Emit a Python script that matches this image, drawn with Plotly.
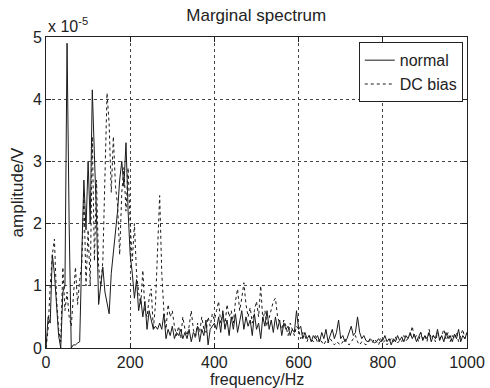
import plotly.graph_objects as go

# frequency axis (Hz), 5 Hz steps
freq = list(range(0, 1001, 5))

# amplitudes in units of 1e-5 V
normal = [
    0.0, 0.5, 0.4, 1.5, 1.2, 0.6, 0.2, 0.0, 0.9, 1.0,
    4.9, 2.0, 0.0, 0.05, 0.05, 0.08, 0.1, 1.5, 2.7, 1.9,
    3.0, 2.0, 4.15, 3.1, 2.1, 0.7, 1.0, 1.3, 0.9, 0.75,
    0.55, 1.2, 1.5, 1.8, 2.2, 2.7, 3.0, 2.6, 3.3, 2.2,
    1.5, 1.2, 0.8, 1.1, 0.6, 0.8, 0.5, 0.75, 0.3, 0.6,
    0.45, 0.3, 0.35, 0.3, 0.4, 0.3, 0.55, 0.15, 0.3, 0.2,
    0.35, 0.15, 0.25, 0.2, 0.3, 0.15, 0.25, 0.15, 0.3, 0.1,
    0.25, 0.2, 0.35, 0.1, 0.3, 0.2, 0.45, 0.05, 0.3, 0.35,
    0.4, 0.3, 0.5, 0.25, 0.6, 0.3, 0.45, 0.2, 0.5, 0.3,
    0.55, 0.25, 0.45, 0.6, 0.3, 0.5, 0.35, 0.45, 0.2, 0.55,
    0.3, 0.4, 0.15, 0.5, 0.35, 0.6, 0.3, 0.45, 0.25, 0.5,
    0.3, 0.45, 0.2, 0.4, 0.3, 0.35, 0.2, 0.3, 0.25, 0.6,
    0.3, 0.35, 0.15, 0.25, 0.15, 0.2, 0.1, 0.2, 0.15, 0.2,
    0.1, 0.25, 0.15, 0.3, 0.1, 0.2, 0.3, 0.15, 0.25, 0.45,
    0.15, 0.2, 0.1, 0.15, 0.25, 0.35, 0.2, 0.25, 0.5, 0.25,
    0.15, 0.2, 0.12, 0.1, 0.15, 0.12, 0.08, 0.1, 0.15, 0.1,
    0.12, 0.2, 0.1, 0.15, 0.05, 0.15, 0.1, 0.2, 0.12, 0.18,
    0.1, 0.2, 0.15, 0.25, 0.15, 0.22, 0.1, 0.18, 0.25, 0.12,
    0.2, 0.15, 0.25, 0.1, 0.2, 0.15, 0.3, 0.12, 0.2, 0.1,
    0.25, 0.15, 0.2, 0.1, 0.22, 0.15, 0.3, 0.1, 0.2, 0.15,
    0.25,
]

dc_bias = [
    0.0, 0.3, 1.0, 1.5, 1.75, 0.8, 0.3, 0.1, 1.3, 0.6,
    0.9, 0.5, 0.35, 0.9, 1.3, 0.7, 1.1, 1.35, 2.5, 1.0,
    1.9, 1.0, 3.4, 1.4, 2.7, 1.3, 1.0, 1.4, 3.0, 4.1,
    3.6, 2.5, 3.4, 2.6, 2.3, 1.5, 2.5, 2.9, 2.2, 2.9,
    2.0, 1.4, 2.0, 1.2, 0.9, 0.7, 1.25, 0.6, 0.5, 0.8,
    0.95, 0.3, 0.7, 1.5, 2.45, 1.2, 0.6, 0.3, 0.7, 0.5,
    0.6, 0.35, 0.2, 0.35, 0.15, 0.5, 0.3, 0.2, 0.35, 0.6,
    0.3, 0.15, 0.4, 0.25, 0.5, 0.3, 0.25, 0.5, 0.35, 0.55,
    0.45, 0.6, 0.75, 0.4, 0.55, 0.35, 0.7, 0.5, 0.6, 0.4,
    0.75, 0.95, 0.6, 0.8, 1.05, 0.7, 0.5, 0.65, 0.4, 0.6,
    0.75, 0.5, 1.0, 0.45, 0.6, 0.35, 0.5, 0.6, 0.75, 0.8,
    0.5, 0.4, 0.3, 0.45, 0.35, 0.2, 0.4, 0.3, 0.2, 0.35,
    0.3, 0.15, 0.25, 0.2, 0.1, 0.2, 0.15, 0.1, 0.2, 0.08,
    0.15, 0.1, 0.05, 0.12, 0.08, 0.15, 0.1, 0.05, 0.1, 0.08,
    0.05, 0.1, 0.15, 0.08, 0.05, 0.1, 0.15, 0.2, 0.1, 0.05,
    0.1, 0.08, 0.05, 0.1, 0.12, 0.08, 0.15, 0.1, 0.05, 0.15,
    0.08, 0.12, 0.05, 0.1, 0.15, 0.1, 0.18, 0.08, 0.12, 0.1,
    0.2, 0.12, 0.15, 0.2, 0.35, 0.15, 0.2, 0.1, 0.25, 0.15,
    0.2, 0.1, 0.3, 0.15, 0.2, 0.1, 0.25, 0.15, 0.2, 0.3,
    0.15, 0.25, 0.1, 0.2, 0.15, 0.25, 0.1, 0.2, 0.3, 0.15,
    0.25,
]

x_ticks = [0, 200, 400, 600, 800, 1000]
y_ticks = [0, 1, 2, 3, 4, 5]

FONT = "Liberation Sans, Arial, sans-serif"

fig = go.Figure()
fig.add_trace(go.Scatter(
    x=freq, y=normal, name="normal", mode="lines",
    line=dict(color="#1a1a1a", width=1),
))
fig.add_trace(go.Scatter(
    x=freq, y=dc_bias, name="DC bias", mode="lines",
    line=dict(color="#1a1a1a", width=1, dash="dot"),
))

axis_common = dict(
    showline=True, mirror="ticks", linecolor="#222", linewidth=1,
    ticks="inside", ticklen=5, tickcolor="#222",
    showgrid=True, gridcolor="#444", griddash="dot", gridwidth=1,
    zeroline=False, automargin=False,
    tickfont=dict(family=FONT, size=16, color="#222"),
)

fig.update_layout(
    width=490, height=388,
    margin=dict(l=46, r=23, t=37, b=40),
    paper_bgcolor="white", plot_bgcolor="white",
    font=dict(family=FONT, color="#222"),
    title=dict(text="Marginal spectrum", x=0.523, xanchor="center",
               y=0.962, yanchor="middle", font=dict(size=17, family=FONT, color="#222")),
    xaxis=dict(range=[0, 1000], tickvals=x_ticks, **axis_common),
    yaxis=dict(range=[0, 5], tickvals=y_ticks,
               title=dict(text="amplitude/V", font=dict(size=17, family=FONT), standoff=4),
               **axis_common),
    legend=dict(x=0.99, y=0.983, xanchor="right", yanchor="top",
                bgcolor="white", bordercolor="#222", borderwidth=1,
                font=dict(size=16, family=FONT, color="#222"),
                itemwidth=30, tracegroupgap=0),
    showlegend=True,
)

# x-axis title placed as an annotation for precise vertical position
fig.add_annotation(
    text="frequency/Hz", xref="paper", yref="paper",
    x=0.5, y=-0.102, xanchor="center", yanchor="middle", showarrow=False,
    font=dict(size=16, family=FONT, color="#222"),
)

fig.add_annotation(
    text="x 10<sup>-5</sup>", xref="paper", yref="paper",
    x=0.0, y=1.0, xanchor="left", yanchor="bottom", showarrow=False,
    font=dict(size=16, family=FONT, color="#222"),
)

fig.write_html("out.html")
